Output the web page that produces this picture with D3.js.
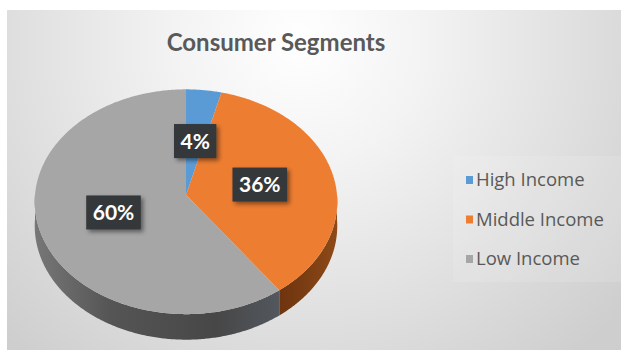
<!DOCTYPE html>
<html>
<head>
<meta charset="utf-8">
<script src="https://cdn.jsdelivr.net/npm/d3@7"></script>
<style>
  html, body { margin: 0; padding: 0; background: #ffffff; }
  svg { display: block; }
</style>
</head>
<body>
<svg id="chart" width="621" height="361"></svg>
<script>
// Chart data
const title = "Consumer Segments";
const categories = ["High Income", "Middle Income", "Low Income"];
const shares = [4, 36, 60];
const labels = ["4%", "36%", "60%"];

// Slice colours (top face)
const topColors = ["#5b9bd5", "#ed7d31", "#a6a6a6"];

const svg = d3.select("#chart");
const defs = svg.append("defs");

// Background panel with soft radial light
const bg = defs.append("radialGradient")
  .attr("id", "bgGrad").attr("gradientUnits", "userSpaceOnUse")
  .attr("cx", 300).attr("cy", 40).attr("r", 420);
bg.append("stop").attr("offset", 0).attr("stop-color", "#ffffff");
bg.append("stop").attr("offset", 0.3).attr("stop-color", "#f3f3f3");
bg.append("stop").attr("offset", 1).attr("stop-color", "#cecece");

svg.append("rect").attr("x", 7).attr("y", 10).attr("width", 614).attr("height", 340)
  .attr("fill", "url(#bgGrad)");

// Side wall shading
const grayWall = defs.append("linearGradient")
  .attr("id", "grayWall").attr("gradientUnits", "userSpaceOnUse")
  .attr("x1", 35).attr("x2", 337).attr("y1", 0).attr("y2", 0);
[[0, "#777777"], [0.25, "#555555"], [0.6, "#474747"], [0.8, "#52575d"], [0.9, "#646e78"]]
  .forEach(([o, c]) => grayWall.append("stop").attr("offset", o).attr("stop-color", c));
const orangeWall = defs.append("linearGradient")
  .attr("id", "orangeWall").attr("gradientUnits", "userSpaceOnUse")
  .attr("x1", 270).attr("x2", 337).attr("y1", 0).attr("y2", 0);
[[0, "#6a320e"], [0.5, "#7a3c12"], [1, "#8e4a18"]]
  .forEach(([o, c]) => orangeWall.append("stop").attr("offset", o).attr("stop-color", c));
const wallFills = ["#3d6a94", "url(#orangeWall)", "url(#grayWall)"];

// Label box shadow
const sh = defs.append("filter").attr("id", "boxShadow")
  .attr("x", "-30%").attr("y", "-30%").attr("width", "170%").attr("height", "170%");
sh.append("feDropShadow").attr("dx", 2.5).attr("dy", 2.5).attr("stdDeviation", 2)
  .attr("flood-color", "#000").attr("flood-opacity", 0.45);

// Tilted pie projection (perspective view of a flat disc)
const cx = 186, cy = 195, RX = 151, RY = 112, persp = 0.06, depth = 24;
function project(a, f = 1, h = 0) {
  const x = Math.sin(a) * f, z = -Math.cos(a) * f;
  const d = 1 - persp * z;
  return [cx + RX * x / d, cy + (RY * z + h) / d];
}
function arcPoints(a0, a1, h) {
  const n = Math.max(2, Math.ceil((a1 - a0) / 0.01));
  return d3.range(n + 1).map(i => project(a0 + (a1 - a0) * i / n, 1, h));
}

const pie = d3.pie().sort(null).value(d => d)
  .startAngle(0).endAngle(2 * Math.PI);
const arcs = pie(shares);
const line = d3.line();

const pieG = svg.append("g");

// Side walls (front half only)
arcs.forEach((a, i) => {
  const lo = Math.max(a.startAngle, Math.PI / 2);
  const hi = Math.min(a.endAngle, 3 * Math.PI / 2);
  if (lo >= hi) return;
  const pts = arcPoints(lo, hi, 0).concat(arcPoints(lo, hi, depth).reverse());
  pieG.append("path").attr("d", line(pts) + "Z").attr("fill", wallFills[i]);
});

// Top faces
arcs.forEach((a, i) => {
  const pts = [project(0, 0)].concat(arcPoints(a.startAngle, a.endAngle, 0));
  pieG.append("path").attr("d", line(pts) + "Z")
    .attr("fill", topColors[i]);
});

// Title
svg.append("text")
  .attr("x", 276).attr("y", 51)
  .attr("text-anchor", "middle")
  .attr("font-family", "Lato, 'Open Sans', sans-serif")
  .attr("font-weight", "bold")
  .attr("font-size", 24)
  .attr("fill", "#595959")
  .text(title);

// Data labels in dark boxes at mid-radius of each slice
const labelG = svg.append("g");
arcs.forEach((a, i) => {
  const mid = (a.startAngle + a.endAngle) / 2;
  const [lx, ly] = project(mid, 0.5);
  const g = labelG.append("g").attr("transform", `translate(${lx},${ly})`);
  const rect = g.append("rect").attr("fill", "#34373b").attr("filter", "url(#boxShadow)");
  const t = g.append("text")
    .attr("text-anchor", "middle").attr("dy", "0.36em")
    .attr("font-family", "Lato, 'Open Sans', sans-serif")
    .attr("font-weight", "bold").attr("font-size", 21)
    .attr("fill", "#ffffff")
    .text(labels[i]);
  const w = t.node().getComputedTextLength() + 13;
  const h = 34;
  rect.attr("x", -w / 2).attr("y", -h / 2).attr("width", w).attr("height", h);
});

// Legend
const legendG = svg.append("g");
legendG.append("rect").attr("x", 453).attr("y", 156).attr("width", 168).attr("height", 126)
  .attr("fill", "#ffffff").attr("opacity", 0.12);
const legendY = d3.scalePoint().domain(categories).range([180, 259]);
categories.forEach((c, i) => {
  const y = legendY(c);
  legendG.append("rect").attr("x", 466).attr("y", y - 4).attr("width", 7).attr("height", 8)
    .attr("fill", topColors[i]);
  legendG.append("text")
    .attr("x", 476).attr("y", y).attr("dy", "0.35em")
    .attr("font-family", "'Open Sans', sans-serif")
    .attr("font-size", 18.5)
    .attr("fill", "#595959")
    .text(c);
});
</script>
</body>
</html>
